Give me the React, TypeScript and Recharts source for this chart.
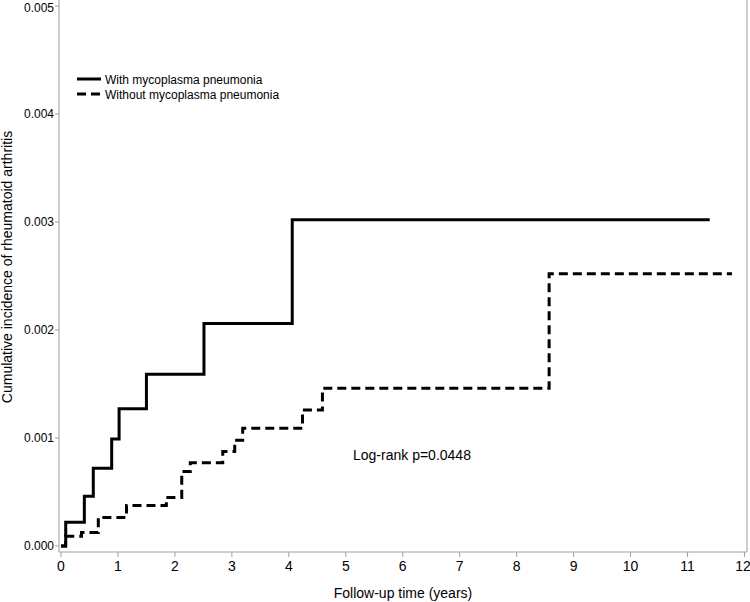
import React from "react";
import { LineChart, Line, XAxis, YAxis, ReferenceLine } from "recharts";

// follow-up time (years) and cumulative incidence
const withTimes = [0, 0.083, 0.41, 0.567, 0.89, 1.02, 1.5, 2.51, 4.06, 11.39];
const withValues = [0, 0.00022, 0.00046, 0.00072, 0.00099, 0.00127, 0.00159, 0.00206, 0.00302, 0.00302];

const withoutTimes = [0, 0.08, 0.36, 0.655, 1.15, 1.85, 2.12, 2.27, 2.84, 3.05, 3.19, 4.24, 4.59, 8.57, 11.78];
const withoutValues = [
  0, 0.00009, 0.000125, 0.000265, 0.000375, 0.00045, 0.00069, 0.00077, 0.000875, 0.00098, 0.00109, 0.00126,
  0.00146, 0.00252, 0.00252,
];

const xTicks = [0, 1, 2, 3, 4, 5, 6, 7, 8, 9, 10, 11, 12];
const yTicks = [0, 0.001, 0.002, 0.003, 0.004, 0.005];

const seriesNames = ["With mycoplasma pneumonia", "Without mycoplasma pneumonia"];
const pValueText = "Log-rank p=0.0448";

const withData = withTimes.map((t, i) => ({ t, v: withValues[i] }));
const withoutData = withoutTimes.map((t, i) => ({ t, v: withoutValues[i] }));

const FONT = "'Liberation Sans', Arial, Helvetica, sans-serif";
const AXIS = "#a0a0a0";
const X_MAX = 12.044;

const App = () => {
  return (
    <div style={{ position: "absolute", left: 0, top: 0, width: 750, height: 602, fontFamily: FONT }}>
      <LineChart width={750} height={602} margin={{ top: 0, right: 3, bottom: 0, left: 0 }}>
        <XAxis
          dataKey="t"
          type="number"
          domain={[-0.035, X_MAX]}
          ticks={xTicks}
          allowDataOverflow
          height={50}
          stroke={AXIS}
          tickSize={5}
          tickMargin={4}
          tick={{ fill: "#000", fontSize: 14, fontFamily: FONT }}
          label={{
            value: "Follow-up time (years)",
            position: "insideBottom",
            offset: 4,
            fill: "#000",
            fontSize: 14,
            fontFamily: FONT,
          }}
        />
        <YAxis
          type="number"
          domain={[-0.0000556, 0.0050556]}
          ticks={yTicks}
          allowDataOverflow
          width={59}
          stroke={AXIS}
          tickSize={4}
          tickMargin={1}
          tickFormatter={(v: number) => v.toFixed(3)}
          tick={{ fill: "#000", fontSize: 12, fontFamily: FONT }}
        />
        <ReferenceLine x={X_MAX} stroke={AXIS} ifOverflow="extendDomain" />
        <Line
          data={withData}
          dataKey="v"
          type="stepAfter"
          stroke="#000"
          strokeWidth={3}
          dot={false}
          activeDot={false}
          isAnimationActive={false}
        />
        <Line
          data={withoutData}
          dataKey="v"
          type="stepAfter"
          stroke="#000"
          strokeWidth={3}
          strokeDasharray="9 5"
          dot={false}
          activeDot={false}
          isAnimationActive={false}
        />
      </LineChart>
      <svg
        width={750}
        height={602}
        style={{ position: "absolute", left: 0, top: 0, pointerEvents: "none" }}
        fontFamily={FONT}
      >
        <text transform="translate(12,267) rotate(-90)" textAnchor="middle" fontSize={14} fill="#000">
          Cumulative incidence of rheumatoid arthritis
        </text>
        <line x1={77} y1={79} x2={101} y2={79} stroke="#000" strokeWidth={3} />
        <text x={105} y={83.5} fontSize={12} fill="#000">
          {seriesNames[0]}
        </text>
        <line x1={77} y1={94} x2={101} y2={94} stroke="#000" strokeWidth={3} strokeDasharray="9 5" />
        <text x={105} y={98.5} fontSize={12} fill="#000">
          {seriesNames[1]}
        </text>
        <text x={353} y={460} fontSize={14} fill="#000">
          {pValueText}
        </text>
      </svg>
    </div>
  );
};

export default App;
